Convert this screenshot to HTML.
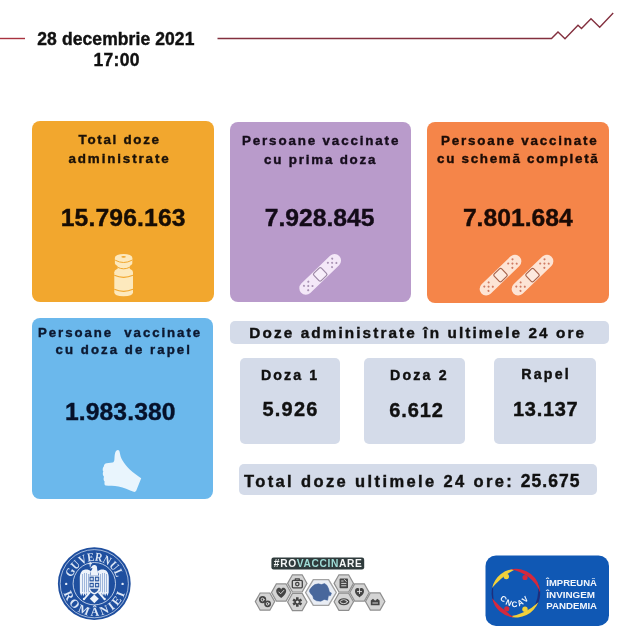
<!DOCTYPE html>
<html lang="ro">
<head>
<meta charset="utf-8">
<title>Vaccinare 28 decembrie 2021</title>
<style>
html,body{margin:0;padding:0;}
body{width:640px;height:640px;background:#fff;position:relative;overflow:hidden;font-family:"Liberation Sans",Arial,sans-serif;color:#111;}
.abs{position:absolute;}
.card{position:absolute;border-radius:8px;}
.t{position:absolute;font-weight:bold;line-height:20px;white-space:nowrap;-webkit-text-stroke:0.4px currentColor;}
.gbox{position:absolute;background:#d4dbe9;border-radius:5px;}
</style>
</head>
<body>
<!-- header -->
<svg class="abs" style="left:0;top:0" width="640" height="100" viewBox="0 0 640 100">
  <line x1="0" y1="38.5" x2="25" y2="38.5" stroke="#a8323f" stroke-width="1.4"/>
  <polyline points="217.5,38.5 551.5,38.5 558,32 565,38.8 578,25.3 581.5,28.5 591,18.8 599.7,27.2 613.2,13.1" fill="none" stroke="#83303f" stroke-width="1.4" stroke-linejoin="miter"/>
</svg>

<div class="t" style="left:37.30px;top:28.54px;font-size:17.5px;letter-spacing:0.09px;color:#111;">28 decembrie 2021</div>
<div class="t" style="left:93.50px;top:50.14px;font-size:17.5px;letter-spacing:0.28px;color:#111;">17:00</div>
<div class="card" style="left:32px;top:121px;width:182px;height:181px;background:#f2a72e;"></div>
<div class="card" style="left:230px;top:121.8px;width:180.6px;height:180.6px;background:#b99bcb;"></div>
<div class="card" style="left:427px;top:121.5px;width:181.5px;height:181.5px;background:#f58549;"></div>
<div class="card" style="left:32px;top:318px;width:181px;height:181px;background:#6bb8ec;"></div>
<div class="t" style="left:78.60px;top:130.16px;font-size:13.4px;letter-spacing:1.69px;color:#1c1208;">Total doze</div>
<div class="t" style="left:68.50px;top:149.36px;font-size:13.4px;letter-spacing:1.87px;color:#1c1208;">administrate</div>
<div class="t" style="left:60.70px;top:208.04px;font-size:24.7px;letter-spacing:0.15px;color:#170d05;">15.796.163</div>
<div class="t" style="left:242.00px;top:130.86px;font-size:13.4px;letter-spacing:1.84px;color:#160d1c;">Persoane vaccinate</div>
<div class="t" style="left:264.00px;top:149.96px;font-size:13.4px;letter-spacing:1.79px;color:#160d1c;">cu prima doza</div>
<div class="t" style="left:264.70px;top:208.04px;font-size:24.7px;letter-spacing:0.0px;color:#130b18;">7.928.845</div>
<div class="t" style="left:441.00px;top:130.86px;font-size:13.4px;letter-spacing:1.8px;color:#1c0c06;">Persoane vaccinate</div>
<div class="t" style="left:437.00px;top:149.36px;font-size:13.4px;letter-spacing:1.71px;color:#1c0c06;">cu schemă completă</div>
<div class="t" style="left:462.90px;top:208.04px;font-size:24.7px;letter-spacing:0.0px;color:#1a0a05;">7.801.684</div>
<div class="t" style="left:38.00px;top:322.93px;font-size:13.2px;letter-spacing:1.96px;color:#0c1830;">Persoane&nbsp; vaccinate</div>
<div class="t" style="left:55.50px;top:339.68px;font-size:13.2px;letter-spacing:2.07px;color:#0c1830;">cu doza de rapel</div>
<div class="t" style="left:64.90px;top:402.34px;font-size:24.7px;letter-spacing:0.1px;color:#06112a;">1.983.380</div>
<div class="gbox" style="left:230px;top:321px;width:379px;height:23px;"></div>
<div class="gbox" style="left:239.5px;top:358px;width:100px;height:86px;"></div>
<div class="gbox" style="left:364px;top:358px;width:101px;height:86px;"></div>
<div class="gbox" style="left:494px;top:358px;width:102px;height:86px;"></div>
<div class="gbox" style="left:238.8px;top:463.6px;width:358.4px;height:31.4px;"></div>
<div class="t" style="left:249.30px;top:322.60px;font-size:15.3px;letter-spacing:2.11px;color:#111;">Doze administrate în ultimele 24 ore</div>
<div class="t" style="left:261.00px;top:364.78px;font-size:14.2px;letter-spacing:2.08px;color:#111;">Doza 1</div>
<div class="t" style="left:262.50px;top:399.47px;font-size:20px;letter-spacing:1.2px;color:#111;">5.926</div>
<div class="t" style="left:390.00px;top:364.68px;font-size:14.2px;letter-spacing:2.2px;color:#111;">Doza 2</div>
<div class="t" style="left:389.20px;top:399.67px;font-size:20px;letter-spacing:0.9px;color:#111;">6.612</div>
<div class="t" style="left:521.30px;top:364.38px;font-size:14.2px;letter-spacing:2.22px;color:#111;">Rapel</div>
<div class="t" style="left:513.00px;top:399.37px;font-size:20px;letter-spacing:0.7px;color:#111;">13.137</div>
<div class="t" style="left:244.00px;top:470.58px;font-size:16.5px;letter-spacing:2.38px;color:#111;">Total doze ultimele 24 ore:</div>
<div class="t" style="left:520.70px;top:470.54px;font-size:17.5px;letter-spacing:1.06px;color:#111;">25.675</div>
<svg class="abs" style="left:0;top:0" width="640" height="640" viewBox="0 0 640 640">
  <!-- vial icon -->
  <g id="vial">
    <path d="M114.3,272.2 Q114.3,268.3 123.6,268.3 Q133,268.3 133,272.2 L133,292.3 Q133,296.2 123.6,296.2 Q114.3,296.2 114.3,292.3 Z" fill="#fde9bd"/>
    <rect x="117.6" y="262" width="12.2" height="9" fill="#fde9bd"/>
    <ellipse cx="123.6" cy="263.6" rx="8.6" ry="3.5" fill="#fde9bd"/>
    <rect x="114.9" y="257.9" width="17.4" height="5.7" fill="#fde9bd"/>
    <ellipse cx="123.6" cy="257.9" rx="8.8" ry="4" fill="#fde9bd"/>
    <path d="M115.2,260.2 Q123.6,264.8 132,260.2" fill="none" stroke="#f2a72e" stroke-width="1"/>
    <path d="M117.4,267.2 Q123.6,270.4 129.9,267.2" fill="none" stroke="#f2a72e" stroke-width="1"/>
    <path d="M114.3,275.3 Q123.6,279.4 133,275.3" fill="none" stroke="#f2a72e" stroke-width="1.1"/>
    <path d="M114.3,289.3 Q123.6,293.4 133,289.3" fill="none" stroke="#f2a72e" stroke-width="1.1"/>
    <ellipse cx="123.6" cy="256.8" rx="2.3" ry="0.9" fill="#f2a72e"/>
  </g>
  <!-- bandage template -->
  <defs>
    <g id="bandage">
      <rect x="-26.5" y="-6.5" width="53" height="13" rx="6.5" ry="6.5" fill="var(--bf)"/>
      <rect x="-5.2" y="-5.2" width="10.4" height="10.4" rx="1.6" fill="var(--bp)" stroke="var(--bs)" stroke-width="1.2"/>
      <g fill="var(--bd)">
        <circle cx="-16.6" cy="0" r="1.05"/><circle cx="-19.6" cy="-3" r="1.05"/><circle cx="-13.6" cy="-3" r="1.05"/><circle cx="-19.6" cy="3" r="1.05"/><circle cx="-13.6" cy="3" r="1.05"/>
        <circle cx="16.6" cy="0" r="1.05"/><circle cx="19.6" cy="-3" r="1.05"/><circle cx="13.6" cy="-3" r="1.05"/><circle cx="19.6" cy="3" r="1.05"/><circle cx="13.6" cy="3" r="1.05"/>
      </g>
    </g>
  </defs>
  <use href="#bandage" transform="translate(320.2,274.4) rotate(-44)" style="--bf:#f4e8f8;--bp:#f7eefa;--bs:#9d88a6;--bd:#a892b3"/>
  <use href="#bandage" transform="translate(500.5,275.1) rotate(-44)" style="--bf:#fde4d5;--bp:#fdeadf;--bs:#a8644c;--bd:#cf7a62"/>
  <use href="#bandage" transform="translate(532.5,275.1) rotate(-44)" style="--bf:#fde4d5;--bp:#fdeadf;--bs:#a8644c;--bd:#cf7a62"/>
  <!-- thumbs up -->
  <path d="M117.3,450.2 C118.6,449.8 119.4,450.6 119.7,452.2 C120.3,455.6 121,458 122.4,460.2 C124.2,463.2 126.5,466.2 129.5,469.3 C133,472.8 137.5,475.6 141.2,478.3 L136.2,490.8 C135.6,492 134.4,492.2 133,491.6 C128.5,489.7 124,487.6 118.5,486.5 C114,485.9 109,486.2 105.6,485.6 C104.2,485.2 104.4,483.2 104.6,481.6 C103.4,480.6 103.4,478.2 104,476.8 C102.6,475.6 102.5,473 103.3,471.6 C102.3,470 102.6,467.6 103.8,466.4 C104,464.4 105,463.3 106.6,463.2 L112.6,462.6 C113.8,462.4 114.2,461.4 114.4,459.6 C114.6,457 114.6,455 115,453.4 C115.4,451.6 116.2,450.5 117.3,450.2 Z" fill="#e9f5fd"/>
</svg>

<svg class="abs" style="left:0;top:0" width="640" height="640" viewBox="0 0 640 640">
  <!-- Guvernul Romaniei seal -->
  <g id="seal">
    <circle cx="94.3" cy="583.7" r="36.4" fill="#1f4f9f"/>
    <circle cx="94.3" cy="583.7" r="34.1" fill="none" stroke="#dfe8f6" stroke-width="0.7"/>
    <circle cx="94.3" cy="583.7" r="21.2" fill="none" stroke="#dfe8f6" stroke-width="0.8"/>
    <defs>
      <path id="arcTop" d="M 71.5,583.7 A 22.8,22.8 0 0 1 117.1,583.7"/>
      <path id="arcBot" d="M 62.3,583.7 A 32,32 0 0 0 126.3,583.7"/>
    </defs>
    <text font-family="'Liberation Serif',serif" font-size="12" font-weight="bold" fill="#dde7f6" text-anchor="middle"><textPath href="#arcTop" startOffset="50%" textLength="59" lengthAdjust="spacingAndGlyphs">GUVERNUL</textPath></text>
    <text font-family="'Liberation Serif',serif" font-size="12" font-weight="bold" fill="#dde7f6" text-anchor="middle"><textPath href="#arcBot" startOffset="50%" textLength="81" lengthAdjust="spacing">ROMÂNIEI</textPath></text>
    <circle cx="66.2" cy="583.9" r="1.2" fill="#e4ecf8"/>
    <circle cx="122.6" cy="583.9" r="1.2" fill="#e4ecf8"/>
    <!-- eagle -->
    <g fill="#eef3fb">
      <!-- wings -->
      <path d="M91,571.4 C88.6,569 84.4,568.8 82,571 C80,573 79.7,576 79.8,579 L79.9,592.4 L81.2,596 L82.3,593 L83.4,596.2 L84.6,593.2 L85.7,596 L86.8,593 L87.9,595.4 L88.9,592 L89.6,590 L89.6,577 C89.6,574.6 90,572.8 91,571.4 Z"/>
      <path d="M97.6,571.4 C100,569 104.2,568.8 106.6,571 C108.6,573 108.9,576 108.8,579 L108.7,592.4 L107.4,596 L106.3,593 L105.2,596.2 L104,593.2 L102.9,596 L101.8,593 L100.7,595.4 L99.7,592 L99,590 L99,577 C99,574.6 98.6,572.8 97.6,571.4 Z"/>
      <!-- head and neck -->
      <path d="M92,566 C93.2,564.4 96,564.5 96.8,566.4 C97.4,568 96.8,569.6 97.8,571.2 L98.2,575.4 L90.4,575.4 L90.8,571.2 C91.8,570.2 92.5,569 92.3,568.1 L89.8,568.5 L91.4,567 Z"/>
      <!-- cross -->
      <rect x="89.7" y="562" width="1" height="4.6"/>
      <rect x="88.4" y="563.2" width="3.6" height="1"/>
      <!-- tail -->
      <path d="M94.3,594.4 L98.8,598.8 L94.3,603.2 L89.8,598.8 Z"/>
      <!-- legs / sword and sceptre -->
      <path d="M89.2,591.4 L83.8,598.2 L85.2,599.2 L90.8,592.8 Z"/>
      <path d="M99.4,591.4 L104.8,598.2 L103.4,599.2 L97.8,592.8 Z"/>
      <circle cx="84" cy="599" r="1.2"/>
      <circle cx="104.6" cy="599" r="1.2"/>
      <!-- shield -->
      <path d="M88.6,575.4 L100,575.4 L100,588.8 C100,591.6 97.4,593.6 94.3,594.6 C91.2,593.6 88.6,591.6 88.6,588.8 Z"/>
    </g>
    <g stroke="#5d82c0" stroke-width="0.55" fill="none">
      <path d="M82.5,574 L82.5,592 M84.5,573 L84.5,592.4 M86.5,573 L86.5,592.4 M88.5,574 L88.5,591.6"/>
      <path d="M106.5,574 L106.5,592 M104.5,573 L104.5,592.4 M102.5,573 L102.5,592.4 M100.5,574 L100.5,591.6"/>
    </g>
    <g fill="#2a569f">
      <rect x="89.5" y="576.6" width="4.3" height="4.8"/>
      <rect x="94.9" y="576.6" width="4.3" height="4.8"/>
      <rect x="89.5" y="582.8" width="4.3" height="4.6"/>
      <rect x="94.9" y="582.8" width="4.3" height="4.6"/>
      <path d="M90,588.8 L98.6,588.8 C97.8,590.8 96.2,592.4 94.3,593 C92.4,592.4 90.8,590.8 90,588.8 Z"/>
    </g>
    <g fill="#c9d8ee">
      <rect x="90.5" y="577.8" width="2.3" height="2.4"/>
      <rect x="95.9" y="577.8" width="2.3" height="2.4"/>
      <rect x="90.5" y="584" width="2.3" height="2.2"/>
      <rect x="95.9" y="584" width="2.3" height="2.2"/>
    </g>
  </g>
</svg>

<svg class="abs" style="left:0;top:0" width="640" height="640" viewBox="0 0 640 640">
  <!-- #ROVACCINARE -->
  <g id="rovacc">
    <rect x="271.4" y="557.6" width="92.8" height="11.8" rx="2.2" fill="#2f3b3c"/>
    <text x="317.8" y="567.4" font-family="'Liberation Sans',sans-serif" font-weight="bold" font-size="10.2" fill="#f4f6f6" text-anchor="middle" textLength="88" lengthAdjust="spacing">#RO<tspan fill="#9fdcd6">VACCIN</tspan>ARE</text>
    <defs>
      <polygon id="hexS" points="-9.7,0 -4.85,-8.6 4.85,-8.6 9.7,0 4.85,8.6 -4.85,8.6" fill="#d4d4d4" stroke="#8e8e8e" stroke-width="1.2"/>
    </defs>
    <use href="#hexS" x="265" y="601.6"/>
    <use href="#hexS" x="281.2" y="592.5"/>
    <use href="#hexS" x="297.3" y="583.4"/>
    <use href="#hexS" x="297.3" y="602"/>
    <use href="#hexS" x="343.8" y="583.4"/>
    <use href="#hexS" x="343.8" y="601.7"/>
    <use href="#hexS" x="359.5" y="592.5"/>
    <use href="#hexS" x="375.2" y="601.5"/>
    <polygon points="305.6,592.5 313.3,579.6 328.6,579.6 336.3,592.5 328.6,605.4 313.3,605.4" fill="#e9edf4" stroke="#a3a3a3" stroke-width="1.4"/>
    <!-- Romania map -->
    <path d="M309.8,589.6 L312,586.8 L314.8,584.6 L318.4,583.8 L321.4,584.6 L324.6,583.6 L327,585.4 L328.6,588.8 L329.4,592 L331.4,593 L330.6,595.6 L328.4,595.8 L327.6,600.2 L324.2,599.4 L320.8,601.2 L316.6,600.8 L313.6,599 L312.8,596 L310.6,593.6 L309.4,591.4 Z" fill="#48679c" stroke="#3b5c96" stroke-width="0.5"/>
    <!-- small icons (dark gray) -->
    <g fill="#444" stroke="none">
      <circle cx="262.6" cy="599.6" r="3.6"/><circle cx="267.6" cy="603.8" r="3.4"/>
      <path d="M281.2,598 C275.6,594 275.2,590 277.6,588.3 C279.2,587.2 280.7,588 281.2,589.4 C281.7,588 283.2,587.2 284.8,588.3 C287.2,590 286.8,594 281.2,598 Z"/>
      <path d="M297.3,597.2 L297.3,606.8 M293.1,599.6 L301.5,604.4 M301.5,599.6 L293.1,604.4" stroke="#444" stroke-width="2.6" fill="none"/>
      <ellipse cx="343.8" cy="601.7" rx="5.6" ry="3.5"/>
      <path d="M355,591 C355,587.6 358.4,587 359.5,589.2 C360.6,587 364,587.6 364,591 C364,594.4 360.8,596 359.5,597.4 C358.2,596 355,594.4 355,591 Z"/>
      <path d="M370.8,605.2 L370.8,600.4 L373,598.8 L375.2,600.8 L377.4,598.8 L379.6,600.4 L379.6,605.2 Z"/>
      <rect x="339.6" y="578.6" width="8.4" height="9.6" rx="0.8"/>
    </g>
    <g fill="none" stroke="#e6e6e6" stroke-width="0.9" stroke-linecap="round" stroke-linejoin="round">
      <circle cx="262.6" cy="599.6" r="1.4"/><circle cx="267.6" cy="603.8" r="1.3"/>
      <path d="M278.8,592 L280.6,593.8 L283.8,590.4"/>
      <circle cx="297.3" cy="602" r="0.9" fill="#e6e6e6"/>
      <ellipse cx="343.8" cy="601.7" rx="3.6" ry="1.9"/>
      <path d="M357.4,591.6 L361.6,591.6 M359.5,589.6 L359.5,593.6"/>
      <path d="M372.8,603 L377.6,603"/>
      <path d="M341.6,581 L343.2,581 M341.6,583.4 L346,583.4 M341.6,585.8 L346,585.8 M344.6,579.6 L346.2,581.4"/>
    </g>
    <g fill="none" stroke="#444" stroke-width="1.3" stroke-linecap="round" stroke-linejoin="round">
      <rect x="292.3" y="580.4" width="10" height="7.4" rx="1"/>
      <path d="M295.3,580.4 L295.3,578.8 L299.3,578.8 L299.3,580.4"/>
      <circle cx="297.3" cy="584.1" r="1.7"/>
      <circle cx="343.8" cy="601.7" r="0.8" fill="#444"/>
    </g>
  </g>
  <!-- CNCAV logo -->
  <g id="cncav">
    <rect x="485.5" y="555.5" width="123.5" height="70.4" rx="10.5" fill="#1058b4"/>
    <g font-family="'Liberation Sans',sans-serif" font-weight="bold" font-size="9.2" fill="#f2f6fc">
      <text x="546.3" y="586.1" textLength="50.6" lengthAdjust="spacingAndGlyphs">ÎMPREUNĂ</text>
      <text x="546.3" y="597.6" textLength="48.8" lengthAdjust="spacingAndGlyphs">ÎNVINGEM</text>
      <text x="546.3" y="608.8" textLength="50.8" lengthAdjust="spacingAndGlyphs">PANDEMIA</text>
    </g>
    <g>
    <path d="M493.9,603.5 A24.3,24.3 0 0 1 493.1,584.9 A123.6,123.6 0 0 0 493.9,603.5 Z" fill="#1b2f7e"/>
    <path d="M537.9,582.9 A24.3,24.3 0 0 1 531.5,611.8 A43.0,43.0 0 0 0 537.9,582.9 Z" fill="#1b2f7e"/>
    <path d="M492.1,588.1 A24.3,24.3 0 0 1 515.9,568.9 A73.2,73.2 0 0 0 492.1,588.1 Z" fill="#f2d13a"/>
    <path d="M510.8,569.4 A24.3,24.3 0 0 1 540.2,592.4 A37.9,37.9 0 0 0 510.8,569.4 Z" fill="#d4293d"/>
    <path d="M538.4,602.3 A24.3,24.3 0 0 1 509.2,616.6 A55.4,55.4 0 0 0 538.4,602.3 Z" fill="#f2d13a"/>
    <path d="M514.2,617.4 A24.3,24.3 0 0 1 492.1,598.3 A98.4,98.4 0 0 0 514.2,617.4 Z" fill="#d4293d"/>
    </g>
    <circle cx="506.3" cy="576.5" r="2.7" fill="#f2d13a"/>
    <circle cx="525" cy="577.5" r="2.6" fill="#d4293d"/>
    <circle cx="525" cy="609.3" r="2.7" fill="#f2d13a"/>
    <circle cx="506.8" cy="608.8" r="2.6" fill="#d4293d"/>
    <defs><path id="cncavArc" d="M497.5,596.5 Q514.5,617.6 532,596"/></defs>
    <text font-family="'Liberation Sans',sans-serif" font-weight="bold" font-size="8" fill="#f4f8fd" text-anchor="middle" letter-spacing="1.5"><textPath href="#cncavArc" startOffset="50%">CNCAV</textPath></text>
  </g>
</svg>

</body>
</html>
